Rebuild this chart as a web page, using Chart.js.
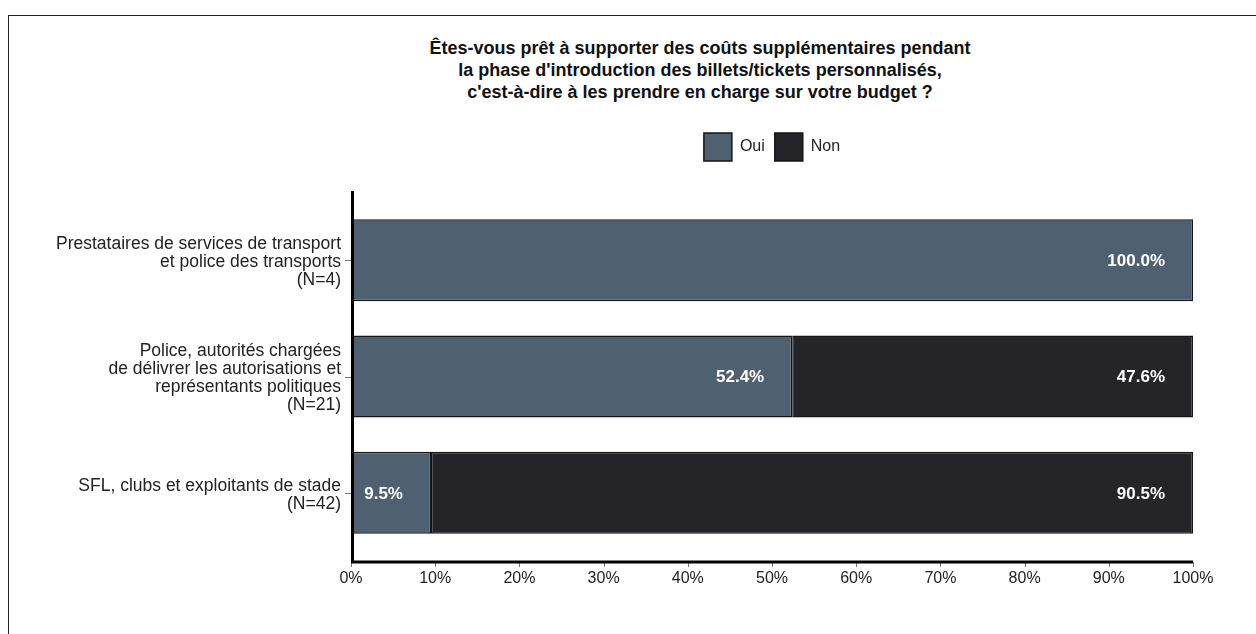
<!DOCTYPE html>
<html lang="fr">
<head>
<meta charset="utf-8">
<title>Coûts supplémentaires – billets personnalisés</title>
<script src="https://cdn.jsdelivr.net/npm/chart.js@4/dist/chart.umd.min.js"></script>
<style>
    html, body {
        margin: 0;
        padding: 0;
        background: #fff;
        overflow: hidden;
    }
    #wrap {
        position: relative;
        width: 1256px;
        height: 634px;
    }
    #frame {
        position: absolute;
        left: 8px;
        top: 15px;
        width: 1400px;
        height: 800px;
        border-left: 1.5px solid #222;
        border-top: 1.5px solid #222;
    }
    #title {
        position: absolute;
        left: 0;
        top: 37px;
        width: 1400px;
        text-align: center;
        font-family: "Liberation Sans", Arial, sans-serif;
        font-weight: bold;
        font-size: 18px;
        line-height: 22px;
        color: #111;
    }
    #chart {
        position: absolute;
        left: 0;
        top: 0;
    }
</style>
</head>
<body>
<div id="wrap">
    <div id="frame"></div>
    <div id="title">Êtes-vous prêt à supporter des coûts supplémentaires pendant<br>la phase d'introduction des billets/tickets personnalisés,<br>c'est-à-dire à les prendre en charge sur votre budget ?</div>
    <canvas id="chart" width="1256" height="634"></canvas>
</div>

<script>
// groupes interrogés (une ligne par étiquette)
const groups = [
    ['Prestataires de services de transport', 'et police des transports', '(N=4)'],
    ['Police, autorités chargées', 'de délivrer les autorisations et', 'représentants politiques', '(N=21)'],
    ['SFL, clubs et exploitants de stade', '(N=42)']
];
const seriesNames = ['Oui', 'Non'];
const ouiValues = [100.0, 52.4, 9.5];
const nonValues = [0, 47.6, 90.5];
const xTicks = [0, 10, 20, 30, 40, 50, 60, 70, 80, 90, 100];

const FONT = '"Liberation Sans", Arial, sans-serif';
const overhang = 11;

// axes noirs qui dépassent un peu la zone des barres + petites graduations
const axisFrame = {
    id: 'axisFrame',
    afterDatasetsDraw(chart) {
        const ctx = chart.ctx;
        const area = chart.chartArea;
        const x = chart.scales.x;
        const y = chart.scales.y;
        const bottom = area.bottom + overhang;

        ctx.save();
        ctx.strokeStyle = '#777';
        ctx.lineWidth = 1;
        x.ticks.forEach((t, i) => {
            const px = Math.round(x.getPixelForTick(i)) + 0.5;
            ctx.beginPath();
            ctx.moveTo(px, bottom);
            ctx.lineTo(px, bottom + 5);
            ctx.stroke();
        });
        y.ticks.forEach((t, i) => {
            const py = Math.round(y.getPixelForTick(i)) + 0.5;
            ctx.beginPath();
            ctx.moveTo(area.left - 6, py);
            ctx.lineTo(area.left, py);
            ctx.stroke();
        });

        ctx.strokeStyle = '#000';
        ctx.lineWidth = 3;
        ctx.beginPath();
        ctx.moveTo(area.left + 1.5, area.top - overhang);
        ctx.lineTo(area.left + 1.5, bottom);
        ctx.lineTo(area.right, bottom);
        ctx.stroke();
        ctx.restore();
    }
};

// pourcentages en blanc, calés à droite dans chaque barre
const barLabels = {
    id: 'barLabels',
    afterDatasetsDraw(chart) {
        const ctx = chart.ctx;
        ctx.save();
        ctx.font = 'bold 17px ' + FONT;
        ctx.fillStyle = '#fff';
        ctx.textAlign = 'right';
        ctx.textBaseline = 'middle';
        chart.data.datasets.forEach((ds, di) => {
            chart.getDatasetMeta(di).data.forEach((bar, i) => {
                const v = ds.data[i];
                if (!v) return;
                ctx.fillText(v.toFixed(1) + '%', bar.x - 28, bar.y + 1);
            });
        });
        ctx.restore();
    }
};

new Chart(document.getElementById('chart'), {
    type: 'bar',
    data: {
        labels: groups,
        datasets: [
            {
                label: seriesNames[0],
                data: ouiValues,
                backgroundColor: '#4f6071',
                borderColor: '#151515',
                borderWidth: 1.5,
                borderSkipped: false,
                barPercentage: 0.705,
                categoryPercentage: 1
            },
            {
                label: seriesNames[1],
                data: nonValues,
                backgroundColor: '#252529',
                borderColor: '#151515',
                borderWidth: 1.5,
                borderSkipped: false,
                barPercentage: 0.705,
                categoryPercentage: 1
            }
        ]
    },
    options: {
        indexAxis: 'y',
        responsive: false,
        animation: false,
        layout: {
            padding: { top: 123, left: 0, right: 63, bottom: 43 }
        },
        scales: {
            x: {
                stacked: true,
                min: 0,
                max: 100,
                afterBuildTicks: (s) => { s.ticks = xTicks.map(v => ({ value: v })); },
                afterFit: (s) => { s.height = 40; },
                grid: { display: false, drawTicks: false },
                border: { display: false },
                ticks: {
                    padding: 18,
                    color: '#222',
                    font: { family: FONT, size: 16 },
                    callback: (v) => v + '%'
                }
            },
            spacer: {
                type: 'linear',
                position: 'top',
                display: true,
                afterFit: (s) => { s.height = 31; },
                grid: { display: false, drawTicks: false },
                border: { display: false },
                ticks: { display: false }
            },
            y: {
                stacked: true,
                afterFit: (s) => { s.width = 351; },
                grid: { display: false, drawTicks: false },
                border: { display: false },
                ticks: {
                    padding: 10,
                    labelOffset: 2,
                    color: '#222',
                    font: { family: FONT, size: 17.5, lineHeight: '18px' }
                }
            }
        },
        plugins: {
            legend: {
                position: 'top',
                fullSize: false,
                labels: {
                    boxWidth: 28,
                    boxHeight: 28,
                    padding: 10,
                    color: '#222',
                    font: { family: FONT, size: 16 }
                }
            },
            tooltip: { enabled: false }
        }
    },
    plugins: [axisFrame, barLabels]
});
</script>
</body>
</html>
